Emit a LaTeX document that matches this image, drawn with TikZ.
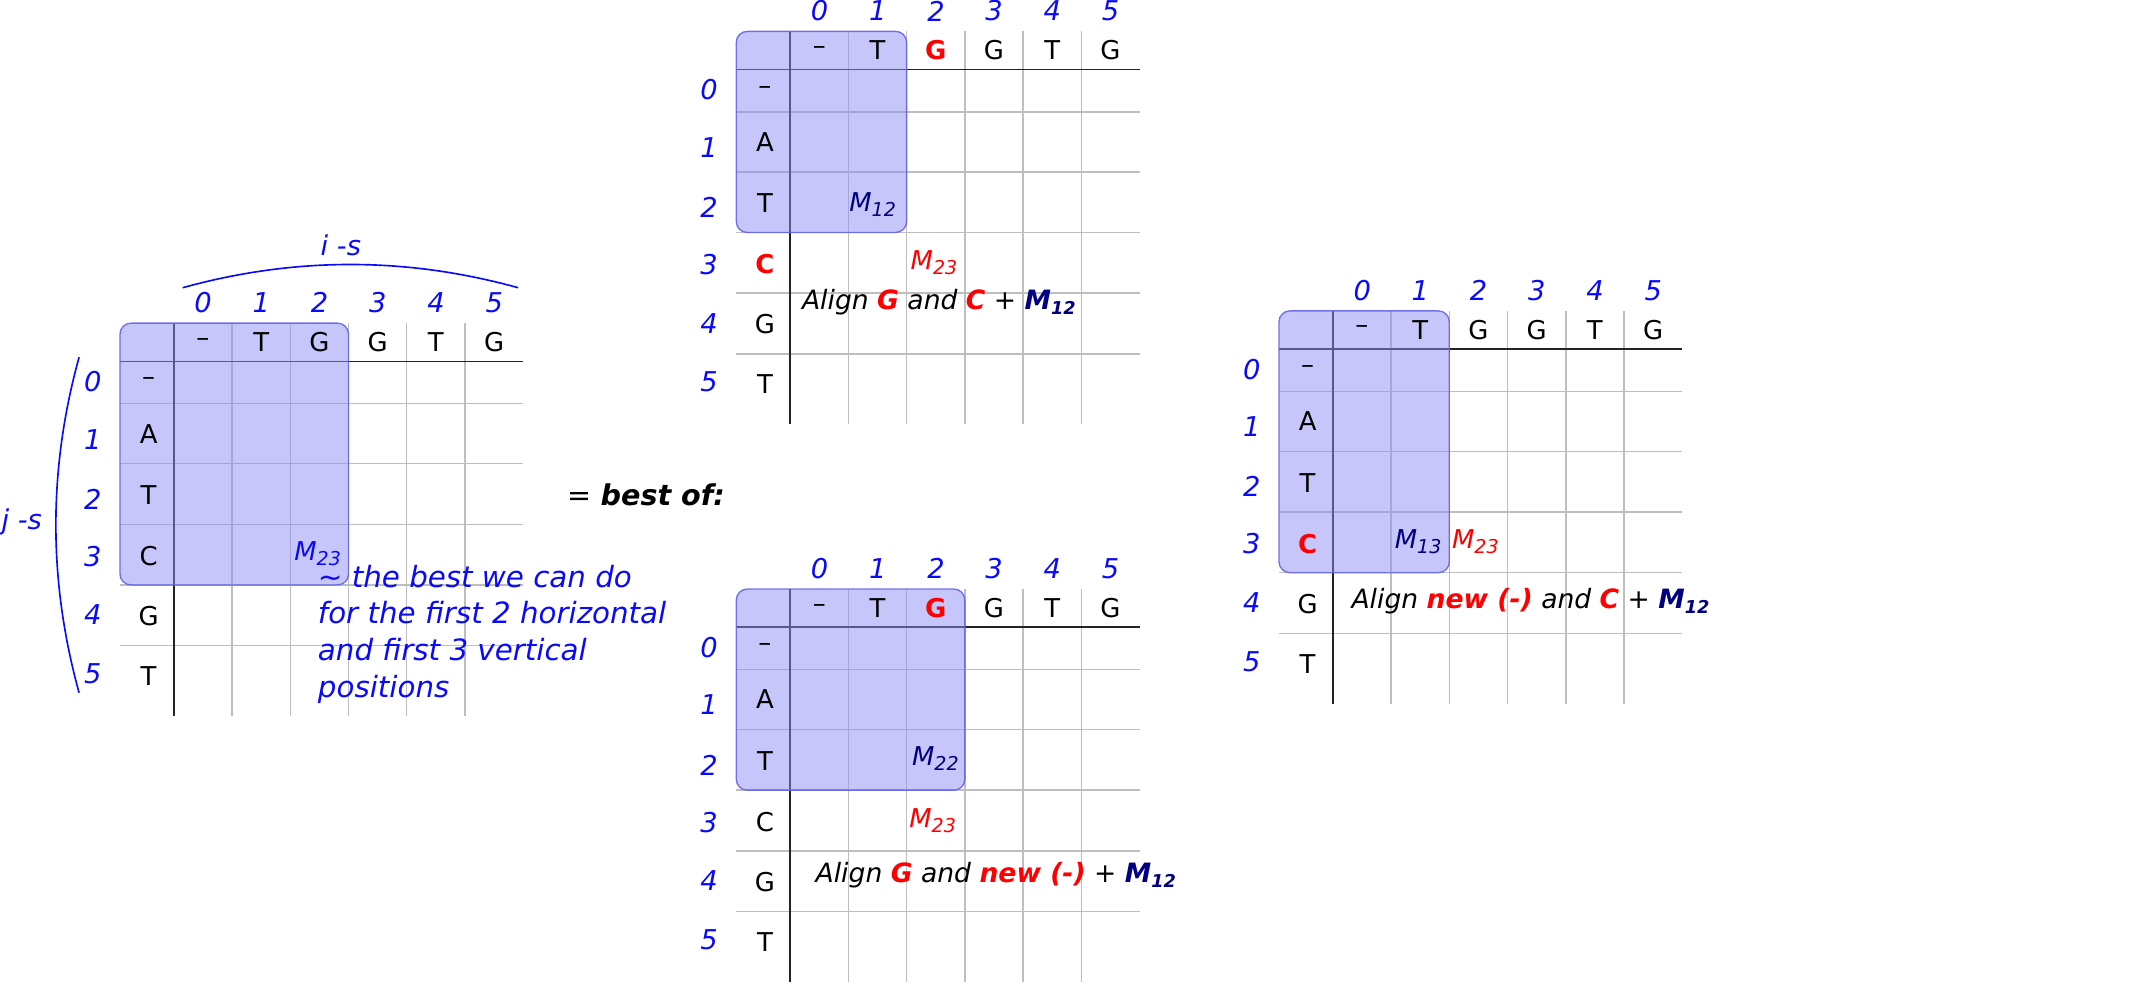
\documentclass[tikz,border=0pt]{standalone}
\usepackage{fontspec}
\setmainfont{DejaVu Sans}
\definecolor{idx}{RGB}{10,10,250}
\definecolor{navyM}{RGB}{0,0,128}
\definecolor{redM}{RGB}{255,0,0}
\definecolor{hlfill}{RGB}{141,141,245}
\definecolor{hlborder}{RGB}{100,100,235}
\definecolor{gridgray}{RGB}{190,190,190}
\definecolor{griddark}{RGB}{35,35,35}
\tikzset{
  letter/.style={inner sep=0pt, font=\fontsize{19}{22}\selectfont},
  index/.style={inner sep=0pt, text=idx, font=\fontsize{20}{24}\selectfont\itshape},
  gridline/.style={draw=gridgray, line width=1.1pt},
  darkline/.style={draw=griddark, line width=1.1pt},
  hlbox/.style={fill=hlfill, fill opacity=0.5, draw=hlborder, draw opacity=0.9, line width=1pt, rounded corners=8pt},
  mlabel/.style={inner sep=0pt, font=\fontsize{19}{22}\selectfont\itshape},
  aligntext/.style={inner sep=0pt, font=\fontsize{19.5}{23}\selectfont\itshape, anchor=base west},
  arcline/.style={draw=idx, line width=1.2pt},
}
\newcommand\Rb[1]{\textcolor{redM}{\bfseries #1}}
\newcommand\Mlab[1]{M\raisebox{-0.35ex}{\fontsize{14}{14}\selectfont #1}}
\newcommand\MB[1]{\textcolor{navyM}{\bfseries M\raisebox{-0.35ex}{\fontsize{13}{13}\selectfont #1}}}
% #1 name, #2 x0, #3 y0, #4 highlight width after separator, #5 highlight height, #6 header letters, #7 row letters
\newcommand\DPtable[7]{%
  \begin{scope}[shift={(#2,#3)}]
    \foreach \k in {1,...,5} \draw[gridline] ({39.5+42.7*\k},0) -- ({39.5+42.7*\k},288);
    \foreach \r in {59,103,147.5,192,236.5} \draw[gridline] (0,\r) -- (295.7,\r);
    \draw[darkline] (0,28) -- (295.7,28);
    \draw[darkline] (39.5,0) -- (39.5,288);
    \draw[hlbox] (0,0) rectangle ({39.5+#4},#5);
    \foreach \c in {0,...,5} \node[index] (#1-ci\c) at ({39.5+21.5+42.7*\c},-15) {\c};
    \foreach \c in {0,...,5} {\pgfmathsetmacro\yy{{43,85,129,171,214,257}[\c]}
      \node[index] (#1-ri\c) at (-20,\yy) {\c};}
    \foreach \l [count=\k from 0] in {#6} \node[letter] (#1-h\k) at ({39.5+21.35+42.7*\k},14) {\l};
    \foreach \l [count=\k from 0] in {#7} {\pgfmathsetmacro\yy{{43,81,126,171,215,259}[\k]}
      \node[letter] (#1-r\k) at (21,\yy) {\l};}
  \end{scope}}
\begin{document}
\begin{tikzpicture}[x=1pt,y=-1pt]
\useasboundingbox (0,0) rectangle (1568,721);
% ---- table A (left)
\DPtable{A}{88}{237}{128.1}{192}{–,T,G,G,T,G}{–,A,T,C,G,T}
\node[mlabel, text=idx] (A-m) at (233,406) {\Mlab{23}};
\node[anchor=north west, align=left, inner sep=0pt, text=idx, font=\fontsize{21.5}{27}\selectfont\itshape] (A-note) at (233,414)
  {\textasciitilde\ the best we can do\\for the first 2 horizontal\\and first 3 vertical\\positions};
\coordinate (A-ia) at (134,211);
\coordinate (A-ib) at (380,211);
\draw[arcline] (A-ia) .. controls (216,188.3) and (298,188.3) .. (A-ib);
\node[index] (A-is) at (250,180) {i -s};
\coordinate (A-ja) at (58,262);
\coordinate (A-jb) at (58,508);
\draw[arcline] (A-ja) .. controls (35.3,344) and (35.3,426) .. (A-jb);
\node[index] (A-js) at (16,383) {j -s};
% ---- best of
\node[anchor=base west, inner sep=0pt, font=\fontsize{21}{25}\selectfont] (best) at (416,371) {= \textbf{\textit{best of:}}};
% ---- table B (top middle)
\DPtable{B}{540}{23}{85.4}{147.5}{–,T,\Rb{G},G,T,G}{–,A,T,\Rb{C},G,T}
\node[mlabel, text=navyM] (B-m12) at (640,150) {\Mlab{12}};
\node[mlabel, text=redM] (B-m23) at (685,193) {\Mlab{23}};
\node[aligntext] (B-txt) at (588,227) {Align \Rb{G} and \Rb{C} + \MB{12}};
% ---- table C (bottom middle)
\DPtable{C}{540}{432}{128.1}{147.5}{–,T,\Rb{G},G,T,G}{–,A,T,C,G,T}
\node[mlabel, text=navyM] (C-m22) at (686,556) {\Mlab{22}};
\node[mlabel, text=redM] (C-m23) at (684,602) {\Mlab{23}};
\node[aligntext] (C-txt) at (598,647) {Align \Rb{G} and \Rb{new (-)} + \MB{12}};
% ---- table D (right)
\DPtable{D}{938}{228}{85.4}{192}{–,T,G,G,T,G}{–,A,T,\Rb{C},G,T}
\node[mlabel, text=navyM] (D-m13) at (1040,397) {\Mlab{13}};
\node[mlabel, text=redM] (D-m23) at (1082,397) {\Mlab{23}};
\node[aligntext] (D-txt) at (991,446) {Align \Rb{new (-)} and \Rb{C} + \MB{12}};
\end{tikzpicture}
\end{document}
